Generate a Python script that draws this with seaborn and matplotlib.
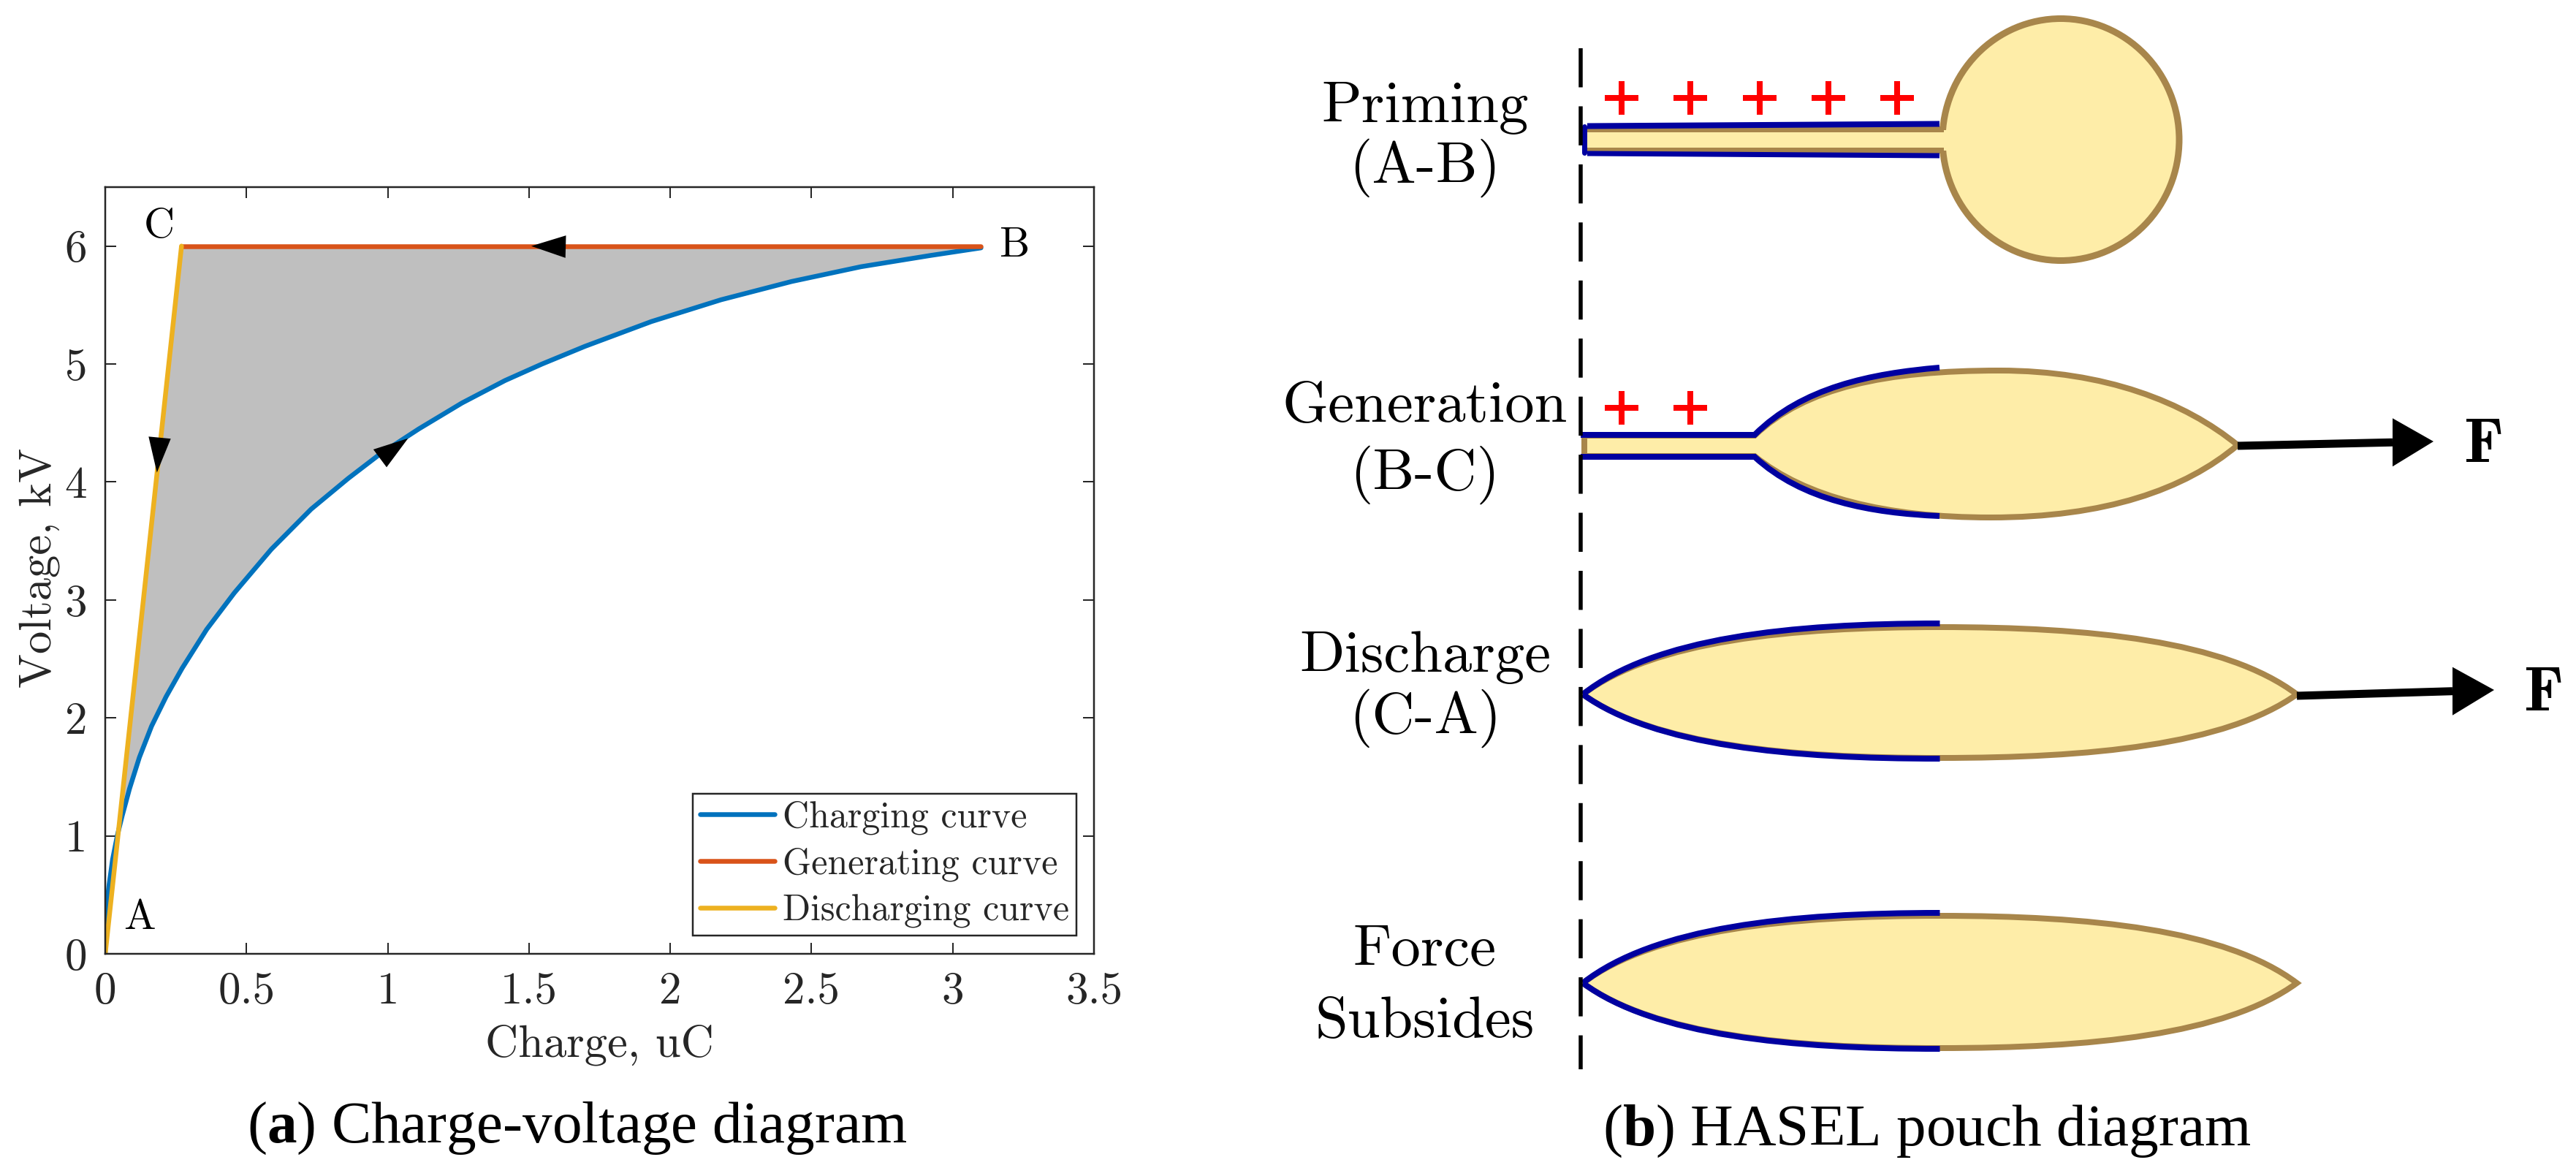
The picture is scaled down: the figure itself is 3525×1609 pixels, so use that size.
import numpy as np
import pandas as pd
import matplotlib
matplotlib.use("Agg")
import matplotlib.pyplot as plt
from matplotlib.path import Path
from matplotlib.patches import PathPatch, Ellipse, Rectangle, Polygon
import seaborn as sns

# ---- chart values ----
charge_q = [0, 0.004, 0.013, 0.026, 0.043, 0.06, 0.086, 0.121, 0.164, 0.2155, 0.272, 0.359, 0.457,
            0.588, 0.729, 0.86, 0.969, 1.11, 1.263, 1.415, 1.546, 1.698, 1.933, 2.18, 2.43, 2.675, 2.92, 3.1]
charge_v = [0, 0.39, 0.573, 0.8, 1.006, 1.17, 1.4, 1.666, 1.93, 2.18, 2.42, 2.75, 3.06,
            3.43, 3.77, 4.03, 4.23, 4.45, 4.67, 4.86, 5.0, 5.15, 5.36, 5.545, 5.70, 5.825, 5.92, 5.985]
gen_q = [3.1, 0.27]
gen_v = [6.0, 6.0]
dis_q = [0.27, 0.0]
dis_v = [6.0, 0.0]
curve_names = ["Charging curve", "Generating curve", "Discharging curve"]
curve_colors = ["#0072BD", "#D95319", "#EDB120"]
x_ticks = [0, 0.5, 1, 1.5, 2, 2.5, 3, 3.5]
x_labels = ["0", "0.5", "1", "1.5", "2", "2.5", "3", "3.5"]
y_ticks = [0, 1, 2, 3, 4, 5, 6]
y_labels = ["0", "1", "2", "3", "4", "5", "6"]
arrow_gen = [(1.508, 6.0), (1.631, 6.09), (1.629, 5.90)]
arrow_dis = [(0.183, 4.08), (0.1535, 4.385), (0.232, 4.367)]
arrow_chg = [(1.072, 4.37), (0.949, 4.276), (0.996, 4.125)]

sns.set_theme(style="white")
plt.rcParams["font.family"] = ["cmr10", "DejaVu Serif"]
plt.rcParams["axes.unicode_minus"] = False
plt.rcParams["axes.formatter.use_mathtext"] = True
plt.rcParams["lines.scale_dashes"] = False
plt.rcParams["mathtext.fontset"] = "custom"
plt.rcParams["mathtext.bf"] = "Liberation Serif:bold"
plt.rcParams["mathtext.rm"] = "Liberation Serif"

W, H = 3525, 1609
DPI = 100
PX = 72 / DPI
INK = "#262626"
fig = plt.figure(figsize=(W / DPI, H / DPI), dpi=DPI, facecolor="white")

# ---- panel (a) ----
ax = fig.add_axes([144 / W, (H - 1305) / H, 1353 / W, 1049 / H])
df = pd.DataFrame({
    "q": charge_q + gen_q + dis_q,
    "v": charge_v + gen_v + dis_v,
    "curve": [curve_names[0]] * len(charge_q) + [curve_names[1]] * len(gen_q) + [curve_names[2]] * len(dis_q),
})
ax.fill(charge_q + [gen_q[0], gen_q[1]], charge_v + [gen_v[0], gen_v[1]], color="#BFBFBF", lw=0, zorder=1)
sns.lineplot(data=df, x="q", y="v", hue="curve", hue_order=curve_names, palette=curve_colors,
             sort=False, estimator=None, errorbar=None, lw=6.5 * PX, ax=ax, zorder=2)
for tri in (arrow_gen, arrow_dis, arrow_chg):
    ax.add_patch(Polygon(tri, closed=True, fc="black", ec="none", zorder=4))
ax.set_xlim(0, 3.5)
ax.set_ylim(0, 6.5)
ax.set_xticks(x_ticks, x_labels)
ax.set_yticks(y_ticks, y_labels)
ax.tick_params(axis="both", which="major", direction="in", length=15 * PX, width=2 * PX,
               top=True, right=True, bottom=True, left=True, labelsize=44, labelcolor=INK, color=INK, pad=18)
for s in ax.spines.values():
    s.set_color(INK)
    s.set_linewidth(2.5 * PX)
    s.set_visible(True)
ax.set_xlabel("")
ax.set_ylabel("")
ax.text(0.122, 0.30, "A", fontsize=42, color="black", ha="center", va="center", zorder=5)
ax.text(3.22, 6.0, "B", fontsize=42, color="black", ha="center", va="center", zorder=5)
ax.text(0.19, 6.16, "C", fontsize=42, color="black", ha="center", va="center", zorder=5)
handles, labels = ax.get_legend_handles_labels()
leg = ax.legend(handles, labels, loc="lower right",
                bbox_to_anchor=((1473 - 144) / 1353, (1305 - 1280) / 1049),
                borderaxespad=0, fontsize=36, frameon=True, fancybox=False, framealpha=1,
                edgecolor=INK, handlelength=2.04, handletextpad=0.22, labelspacing=0.35,
                borderpad=0.2)
leg.get_frame().set_linewidth(2.5 * PX)
for h in leg.get_lines():
    h.set_linewidth(6.5 * PX)

# ---- overlay in picture pixels for the diagram and the captions ----
ov = fig.add_axes([0, 0, 1, 1], facecolor="none")
ov.set_xlim(0, W)
ov.set_ylim(H, 0)
ov.axis("off")

ov.text(820, 1430, "Charge, uC", fontsize=45, color=INK, ha="center", va="center")
ov.text(54, 777, "Voltage, kV", fontsize=45, color=INK, ha="center", va="center", rotation=90)
ov.text(790, 1544, "($\\mathbf{a}$) Charge-voltage diagram", fontsize=58.5, color="black",
        family="Liberation Serif", ha="center", va="center")
ov.text(2637, 1548, "($\\mathbf{b}$) HASEL pouch diagram", fontsize=58.5, color="black",
        family="Liberation Serif", ha="center", va="center")

FILL = "#FEEDA8"
TAN = "#A8864B"
BLUE = "#0000A0"
RED = "#FF0000"
C3 = Path.CURVE4
M, L = Path.MOVETO, Path.LINETO
TAN_W = 8 * PX
BLUE_W = 8 * PX

def stroke(verts, codes, color, lw, z):
    ov.add_patch(PathPatch(Path(verts, codes), fc="none", ec=color, lw=lw, zorder=z, capstyle="butt", joinstyle="miter"))

def half_lens(x0, y0, apex_x, apex_y):
    dx = apex_x - x0
    dy = apex_y - y0
    return [(x0, y0), (x0 + 0.2 * dx, y0 + 0.8 * dy), (x0 + 0.58 * dx, apex_y), (apex_x, apex_y)]

def full_lens(left, right, y, top, bottom, blue_top, blue_bottom):
    mid = (left + right) / 2
    a = half_lens(left, y, mid, top)
    b = half_lens(right, y, mid, top)[::-1]
    c = half_lens(right, y, mid, bottom)
    d = half_lens(left, y, mid, bottom)[::-1]
    verts = a + b[1:] + c[1:] + d[1:]
    codes = [M] + [C3] * (len(verts) - 1)
    ov.add_patch(PathPatch(Path(verts, codes), fc=FILL, ec="none", zorder=2))
    stroke(verts, codes, TAN, TAN_W, 3)
    stroke(half_lens(left, y, mid, blue_top), [M, C3, C3, C3], BLUE, BLUE_W, 4)
    stroke(half_lens(left, y, mid, blue_bottom), [M, C3, C3, C3], BLUE, BLUE_W, 4)

# centre dashed line
ov.plot([2163, 2163], [66, 1463], color="black", lw=5.5 * PX, ls=(0, (38.5, 18.7)), dash_capstyle="butt", zorder=6)

# Priming pouch
ov.add_patch(Ellipse((2820, 191), 324, 331, fc=FILL, ec=TAN, lw=9 * PX, zorder=2))
ov.add_patch(Rectangle((2170, 178), 500, 28, fc=FILL, ec="none", zorder=3))
ov.plot([2168, 2660], [177, 177], color=TAN, lw=8 * PX, zorder=4, solid_capstyle="butt")
ov.plot([2168, 2660], [206, 206], color=TAN, lw=8 * PX, zorder=4, solid_capstyle="butt")
ov.plot([2172, 2654], [172.5, 169.5], color=BLUE, lw=8 * PX, zorder=5, solid_capstyle="butt")
ov.plot([2172, 2654], [210, 213], color=BLUE, lw=7 * PX, zorder=5, solid_capstyle="butt")
ov.plot([2168, 2168], [173, 209], color=BLUE, lw=7 * PX, zorder=5, solid_capstyle="round")
ov.plot([2219, 2313, 2408, 2502, 2596], [134] * 5, ls="none", marker="+", ms=46 * PX, mew=8 * PX,
        mec=RED, zorder=6)

# Generation pouch
gv = [(2168, 596), (2401, 596), (2470, 530), (2580, 507), (2736, 507), (2880, 507), (2990, 550), (3062, 609),
      (2990, 670), (2880, 708), (2724, 708), (2580, 708), (2470, 680), (2401, 624), (2168, 624), (2168, 596)]
gc = [M, L, C3, C3, C3, C3, C3, C3, C3, C3, C3, C3, C3, C3, L, L]
ov.add_patch(Rectangle((2168, 596), 240, 28, fc=FILL, ec="none", zorder=2))
ov.add_patch(PathPatch(Path(gv, gc), fc=FILL, ec="none", zorder=2))
stroke(gv, gc, TAN, TAN_W, 3)
stroke([(2163, 595), (2401, 595), (2466, 530), (2560, 511), (2654, 503)], [M, L, C3, C3, C3], BLUE, BLUE_W, 4)
stroke([(2163, 625), (2401, 625), (2466, 685), (2560, 702), (2654, 706)], [M, L, C3, C3, C3], BLUE, BLUE_W, 4)
ov.plot([2219, 2313], [558, 558], ls="none", marker="+", ms=46 * PX, mew=8 * PX, mec=RED, zorder=6)

# Discharge and subsiding pouches
full_lens(2166, 3143, 950, 858, 1037, 853, 1038)
full_lens(2166, 3143, 1345, 1253, 1434, 1249, 1435)

# force arrows
def force(x0, y0, x1, y1, base, half):
    yb = y0 + (y1 - y0) * (base - x0) / (x1 - x0)
    ov.plot([x0, base], [y0, yb], color="black", lw=11 * PX, solid_capstyle="butt", zorder=5)
    ov.add_patch(Polygon([(x1, y1), (base, yb - half), (base, yb + half)], fc="black", ec="none", zorder=5))

force(3062, 610, 3330, 604, 3274, 33)
force(3143, 952, 3413, 944, 3356, 33)
ov.text(3399, 610, "F", family="cmb10", fontsize=62, color="black", ha="center", va="center")
ov.text(3481, 950, "F", family="cmb10", fontsize=62, color="black", ha="center", va="center")

for txt, y in [("Priming", 148), ("(A-B)", 230), ("Generation", 557), ("(B-C)", 650),
               ("Discharge", 900), ("(C-A)", 983), ("Force", 1301), ("Subsides", 1399)]:
    ov.text(1950, y, txt, fontsize=58, color="black", ha="center", va="center")

fig.savefig("out.png", dpi=DPI, facecolor="white")
